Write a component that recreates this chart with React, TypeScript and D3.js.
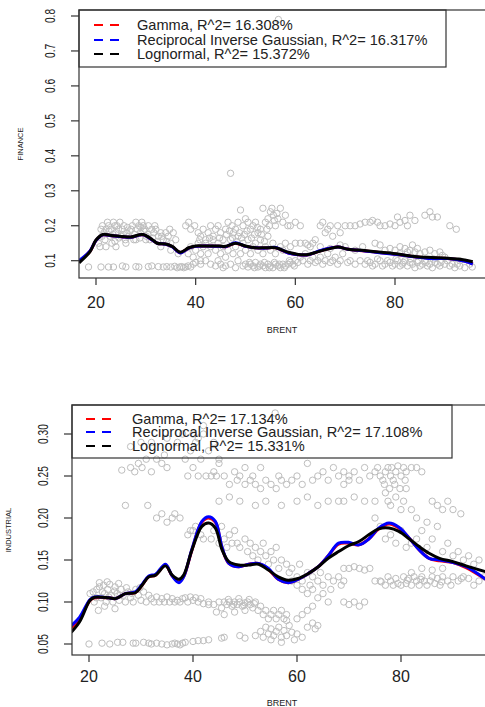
import * as d3 from "d3";

// fitted curves, sampled along BRENT
const financeX = [16.6, 18.8, 20, 21.4, 22.8, 25.4, 27, 29.4, 31.4, 32.3, 34, 35.3, 36.9, 38.6, 40, 42, 44.7, 46, 48, 50, 52, 54, 56, 58.6, 60.6, 62.6, 64.6, 67.3, 68.6, 70.6, 73.9, 77.3, 80.6, 83.9, 87.3, 90.6, 94, 95.6];
const financeGamma = [0.098, 0.127, 0.158, 0.174, 0.172, 0.168, 0.167, 0.174, 0.158, 0.15, 0.147, 0.14, 0.123, 0.136, 0.141, 0.142, 0.141, 0.14, 0.15, 0.141, 0.137, 0.136, 0.137, 0.122, 0.117, 0.117, 0.126, 0.137, 0.139, 0.133, 0.128, 0.123, 0.118, 0.111, 0.107, 0.106, 0.099, 0.091];
const financeRIG = [0.1, 0.128, 0.158, 0.174, 0.172, 0.168, 0.167, 0.174, 0.158, 0.15, 0.147, 0.14, 0.122, 0.136, 0.141, 0.142, 0.141, 0.14, 0.151, 0.141, 0.137, 0.136, 0.138, 0.122, 0.117, 0.117, 0.127, 0.137, 0.139, 0.133, 0.128, 0.122, 0.118, 0.111, 0.106, 0.106, 0.098, 0.09];
const financeLogn = [0.094, 0.126, 0.159, 0.175, 0.173, 0.169, 0.168, 0.175, 0.159, 0.15, 0.148, 0.141, 0.124, 0.137, 0.142, 0.142, 0.142, 0.141, 0.15, 0.142, 0.137, 0.137, 0.137, 0.124, 0.118, 0.118, 0.126, 0.136, 0.139, 0.133, 0.129, 0.124, 0.119, 0.112, 0.109, 0.107, 0.102, 0.097];

const industX = [16.6, 18.2, 20.2, 21.1, 23.8, 25.1, 27, 28.9, 30.2, 31.5, 32.8, 34.7, 36, 37.3, 38.2, 39.8, 41.7, 43, 44.3, 45.6, 46.9, 48.8, 50.7, 52.6, 54.5, 56.4, 58.3, 60.2, 62.2, 64.1, 66, 68, 69.9, 71.9, 73.8, 75.7, 77.7, 79.6, 81.6, 83.5, 85.4, 87.4, 90, 92.5, 96.3];
const industGamma = [0.069, 0.08, 0.102, 0.105, 0.105, 0.104, 0.11, 0.111, 0.12, 0.13, 0.132, 0.144, 0.131, 0.124, 0.13, 0.162, 0.195, 0.2, 0.195, 0.164, 0.146, 0.142, 0.145, 0.146, 0.139, 0.127, 0.123, 0.127, 0.134, 0.142, 0.155, 0.169, 0.17, 0.168, 0.175, 0.187, 0.193, 0.188, 0.176, 0.162, 0.152, 0.149, 0.147, 0.141, 0.127];
const industRIG = [0.072, 0.082, 0.103, 0.106, 0.105, 0.104, 0.11, 0.112, 0.121, 0.131, 0.133, 0.145, 0.131, 0.123, 0.13, 0.163, 0.196, 0.2015, 0.196, 0.165, 0.146, 0.142, 0.145, 0.146, 0.14, 0.127, 0.123, 0.127, 0.134, 0.142, 0.155, 0.17, 0.171, 0.168, 0.175, 0.188, 0.194, 0.189, 0.176, 0.162, 0.152, 0.15, 0.147, 0.142, 0.127];
const industLogn = [0.064, 0.0765, 0.102, 0.1056, 0.105, 0.104, 0.11, 0.111, 0.12, 0.13, 0.132, 0.143, 0.132, 0.127, 0.132, 0.162, 0.19, 0.194, 0.188, 0.162, 0.148, 0.144, 0.144, 0.145, 0.138, 0.13, 0.126, 0.128, 0.134, 0.142, 0.152, 0.16, 0.167, 0.172, 0.18, 0.187, 0.188, 0.184, 0.175, 0.166, 0.158, 0.152, 0.148, 0.143, 0.136];

// observations [BRENT, value]
const financePts: [number, number][] = [
  [20.5, 0.15], [21, 0.19], [21.3, 0.2], [21.6, 0.18], [21.8, 0.16], [22, 0.19], [22.3, 0.21], [22.5, 0.2], [22.8, 0.17], [23, 0.19], [23.2, 0.15], [23.5, 0.21], [23.8, 0.2], [24, 0.18], [24.2, 0.2], [24.5, 0.19], [24.8, 0.21], [25, 0.17], [25.3, 0.19], [25.6, 0.2], [25.9, 0.16], [26.2, 0.18], [26.5, 0.17], [27, 0.19], [27.3, 0.2], [27.6, 0.16], [28, 0.21], [28.3, 0.19], [28.6, 0.2], [28.9, 0.18], [29.2, 0.21], [29.5, 0.2], [29.8, 0.19], [30.1, 0.17], [30.5, 0.2], [30.8, 0.16], [31.2, 0.19], [31.6, 0.18], [32, 0.19], [32.5, 0.17], [33, 0.18], [33.5, 0.16], [34, 0.18], [34.5, 0.17], [35, 0.15], [35.5, 0.18], [36, 0.16],
  [22, 0.14], [24, 0.14], [26, 0.15], [28, 0.16], [30, 0.16], [33, 0.14], [35, 0.13], [36.5, 0.12],
  [21.2, 0.17], [22.6, 0.185], [23.4, 0.175], [24.6, 0.165], [25.5, 0.175], [26.8, 0.185], [27.8, 0.175], [28.8, 0.165], [29.6, 0.185], [30.4, 0.175], [31.4, 0.165], [32.3, 0.155], [33.2, 0.17], [34.2, 0.155], [20.8, 0.14], [23.8, 0.155], [26.3, 0.195], [29, 0.195], [31.8, 0.2], [34.8, 0.19],
  [18.5, 0.082], [21, 0.082], [22.5, 0.082], [23.5, 0.082], [25.3, 0.085], [26, 0.082], [28, 0.083], [28.6, 0.082], [30.5, 0.083], [31.2, 0.085], [32.5, 0.083], [33.5, 0.082], [34.2, 0.083], [35, 0.082], [35.8, 0.084], [36.3, 0.08], [36.8, 0.082], [37.2, 0.083], [37.6, 0.08], [38, 0.082], [38.5, 0.085], [39, 0.082], [39.5, 0.09], [40, 0.095], [41, 0.09],
  [38, 0.2], [38.6, 0.21], [39, 0.19], [39.8, 0.2], [40.5, 0.18], [41, 0.17], [41.5, 0.19], [42, 0.16], [42.5, 0.18], [43, 0.2], [43.5, 0.17], [44, 0.19], [44.5, 0.2], [45, 0.18], [45.5, 0.16], [46, 0.19], [46.5, 0.21], [47, 0.35], [47.3, 0.2], [47.6, 0.18], [48, 0.19], [48.5, 0.21], [49, 0.245], [49.5, 0.2], [50, 0.22], [50.5, 0.21], [51, 0.19], [51.5, 0.2], [52, 0.21], [52.5, 0.18], [53, 0.19], [53.5, 0.25], [54, 0.21], [54.5, 0.22], [55, 0.24], [55.3, 0.25], [55.6, 0.23], [56, 0.2], [56.5, 0.22], [57, 0.25], [57.5, 0.21], [58, 0.23], [58.5, 0.2], [59, 0.2],
  [38.5, 0.12], [39, 0.14], [40, 0.13], [40.5, 0.15], [41, 0.12], [41.5, 0.14], [42, 0.15], [42.5, 0.12], [43, 0.14], [43.5, 0.16], [44, 0.13], [44.5, 0.15], [45, 0.12], [45.5, 0.14], [46, 0.11], [46.5, 0.13], [47, 0.16], [47.5, 0.12], [48, 0.14], [48.5, 0.17], [49, 0.12], [49.5, 0.15], [50, 0.13], [50.5, 0.16], [51, 0.12], [51.5, 0.14], [52, 0.15], [52.5, 0.13], [53, 0.16], [53.5, 0.12], [54, 0.14], [54.5, 0.17], [55, 0.13], [55.5, 0.15], [56, 0.12], [57, 0.14], [57.5, 0.13], [58, 0.15], [59, 0.14], [60, 0.15],
  [46.2, 0.175], [46.8, 0.185], [47.4, 0.165], [48.2, 0.155], [48.8, 0.18], [49.2, 0.165], [49.8, 0.175], [50.3, 0.185], [51.2, 0.165], [51.8, 0.175], [52.4, 0.195], [53.2, 0.175], [53.8, 0.155], [54.3, 0.19], [54.8, 0.2], [55.8, 0.215], [56.3, 0.235], [44.8, 0.165], [42.8, 0.165], [40.8, 0.16],
  [39.5, 0.11], [41, 0.1], [42, 0.1], [43, 0.09], [44, 0.085], [44.5, 0.1], [45, 0.09], [45.5, 0.08], [46, 0.085], [47, 0.09], [48, 0.08], [48.5, 0.1], [49.5, 0.085], [50, 0.09], [50.5, 0.082], [51, 0.09], [51.5, 0.085], [52, 0.095], [52.5, 0.082], [53, 0.09], [53.5, 0.085], [54, 0.08], [54.5, 0.09], [55, 0.085], [55.5, 0.08], [56, 0.09], [56.5, 0.085], [57, 0.08], [57.5, 0.09], [58, 0.085], [58.5, 0.09], [59, 0.095], [59.5, 0.09], [60, 0.1], [60.5, 0.095],
  [50.8, 0.095], [51.8, 0.08], [52.8, 0.085], [53.8, 0.095], [54.8, 0.08], [55.8, 0.095], [56.8, 0.09], [57.8, 0.08], [58.8, 0.1], [59.8, 0.085],
  [56.6, 0.79],
  [60, 0.21], [61, 0.2], [62, 0.15], [63, 0.14], [63.5, 0.15], [64, 0.16], [65, 0.2], [65.5, 0.21], [66, 0.18], [66.5, 0.19], [67, 0.2], [67.5, 0.17], [68.5, 0.2], [69, 0.18], [70, 0.2],
  [61, 0.11], [61.5, 0.1], [62, 0.12], [62.5, 0.09], [63, 0.1], [63.5, 0.11], [64, 0.095], [64.5, 0.1], [65, 0.11], [65.5, 0.09], [66, 0.1], [66.5, 0.12], [67, 0.095], [67.5, 0.1], [68, 0.11], [68.5, 0.09], [69, 0.1], [69.5, 0.12], [61, 0.15], [62.5, 0.145], [65, 0.14], [67, 0.135], [69, 0.145],
  [71, 0.2], [72, 0.2], [73, 0.205], [74, 0.21], [75, 0.21], [75.5, 0.215], [76.5, 0.21], [77, 0.2], [78, 0.2], [79, 0.205], [80, 0.2], [80.5, 0.225], [81, 0.21], [82, 0.215], [82.5, 0.2], [83, 0.23], [84, 0.215], [86, 0.23], [87, 0.24], [87.5, 0.225], [88.5, 0.225], [91, 0.2], [92.3, 0.19],
  [70, 0.14], [72, 0.13], [73.5, 0.14], [76, 0.15], [77, 0.145], [78, 0.13], [79, 0.135], [80, 0.13], [81, 0.12], [82, 0.135], [82.5, 0.125], [83, 0.13], [84, 0.125], [84.5, 0.135], [85, 0.12], [86, 0.125], [87, 0.13], [88, 0.12], [89, 0.125], [89.5, 0.115], [81, 0.14], [83.5, 0.145],
  [70.5, 0.095], [71, 0.1], [72, 0.09], [73, 0.1], [74, 0.09], [75, 0.095], [75.5, 0.085], [76, 0.09], [77, 0.1], [77.5, 0.085], [78, 0.09], [79, 0.095], [79.5, 0.085], [80, 0.09], [80.5, 0.1], [81, 0.085], [81.5, 0.09], [82, 0.1], [82.5, 0.085], [83, 0.095], [83.5, 0.09], [84, 0.08], [84.5, 0.095], [85, 0.085], [85.5, 0.09], [86, 0.1], [86.5, 0.085], [87, 0.09], [87.5, 0.08], [88, 0.095], [88.5, 0.09], [89, 0.085], [90, 0.09], [90.5, 0.1], [91, 0.085], [91.5, 0.09], [92, 0.08], [92.5, 0.09], [93, 0.085], [94, 0.08], [95, 0.09], [95.5, 0.082], [93, 0.1], [90, 0.11],
  [78.5, 0.1], [80.2, 0.105], [81.7, 0.095], [83.2, 0.105], [84.7, 0.1], [86.2, 0.095], [87.7, 0.105], [89.2, 0.095], [76.5, 0.105], [74.5, 0.1],
];

const industPts: [number, number][] = [
  [20, 0.05], [22.5, 0.051], [24, 0.05], [25.5, 0.052], [26.5, 0.052], [28.5, 0.051], [29, 0.051], [30.5, 0.052], [31.5, 0.051], [32, 0.05], [33, 0.051], [34, 0.05], [35, 0.049], [36, 0.05], [36.5, 0.051], [37, 0.05], [37.5, 0.049], [38, 0.051], [38.5, 0.052], [40, 0.053], [41, 0.054], [42, 0.054], [43, 0.055], [45.5, 0.057], [46, 0.058], [49, 0.06], [50, 0.057],
  [20.2, 0.11], [20.8, 0.112], [21, 0.1], [21.5, 0.115], [22, 0.118], [22.3, 0.105], [22.8, 0.12], [23, 0.11], [23.3, 0.1], [23.6, 0.115], [24, 0.121], [24.3, 0.108], [24.6, 0.1], [25, 0.118], [25.4, 0.11], [25.8, 0.102], [26.2, 0.115], [26.6, 0.108], [27, 0.1], [27.5, 0.112], [28, 0.105], [28.5, 0.1], [29, 0.115], [29.5, 0.108], [30, 0.102], [30.5, 0.112], [31, 0.1], [31.5, 0.108], [32, 0.104], [32.5, 0.1], [33, 0.106], [33.5, 0.1], [34, 0.104], [34.5, 0.1], [35, 0.106], [35.5, 0.1], [36, 0.104], [36.5, 0.1], [37, 0.102], [37.5, 0.1], [38, 0.104], [38.5, 0.105], [39, 0.1], [39.5, 0.106], [40, 0.102], [40.5, 0.105], [41, 0.1], [41.5, 0.104], [42, 0.098], [43, 0.097], [21.8, 0.09], [23, 0.095], [25, 0.092],
  [21.4, 0.105], [22.6, 0.112], [23.8, 0.106], [24.9, 0.113], [26, 0.108], [27.2, 0.117], [28.3, 0.11], [29.8, 0.117], [22, 0.123], [23.5, 0.124], [25.7, 0.122],
  [26.3, 0.257], [27, 0.215], [28, 0.26], [28.8, 0.255], [29.5, 0.265], [30.2, 0.26], [31, 0.27], [31.3, 0.215], [32, 0.255], [33, 0.27], [34, 0.265], [34.5, 0.275], [35, 0.26], [33, 0.2], [34, 0.205], [35, 0.195], [36, 0.2], [36.5, 0.205], [37.5, 0.2], [38.5, 0.27], [39, 0.25], [39.5, 0.28], [40, 0.26], [40.5, 0.29], [41, 0.25], [41.5, 0.27], [42, 0.3], [42.5, 0.25], [43, 0.28], [43.5, 0.25], [44, 0.29], [44.5, 0.25], [45, 0.27], [39.5, 0.185], [40.5, 0.19], [41.5, 0.18], [42, 0.175], [39, 0.18], [40, 0.185],
  [28, 0.285], [30, 0.29], [32, 0.29], [35, 0.295], [37, 0.29], [38, 0.3], [40, 0.3], [41, 0.295], [42, 0.31],
  [44, 0.255], [45, 0.265], [46, 0.25], [47, 0.24], [48, 0.255], [48.5, 0.245], [49, 0.25], [50, 0.24], [51, 0.245], [51.5, 0.25], [52, 0.24], [53, 0.235], [54, 0.245], [55, 0.24], [56, 0.235], [56.5, 0.25], [57, 0.245], [58, 0.24], [59, 0.245], [60, 0.25], [61, 0.24], [63, 0.245], [64, 0.25], [65, 0.255], [66, 0.245], [67, 0.26], [68, 0.25], [69, 0.255], [70, 0.245], [45, 0.22], [47, 0.225], [49, 0.22], [52, 0.215], [54, 0.22], [57, 0.215], [60, 0.22], [62, 0.225], [64, 0.215], [66, 0.22], [68, 0.22], [58, 0.3], [55.8, 0.325], [50, 0.26], [53, 0.26], [62, 0.265],
  [43.5, 0.175], [44, 0.185], [45, 0.17], [45.5, 0.19], [46, 0.175], [46.5, 0.165], [47, 0.18], [47.5, 0.17], [48, 0.185], [48.5, 0.17], [49, 0.165], [50, 0.175], [50.5, 0.16], [51, 0.17], [51.5, 0.155], [52, 0.165], [52.5, 0.15], [53, 0.16], [53.5, 0.17], [54, 0.155], [54.5, 0.145], [55, 0.16], [55.5, 0.15], [56, 0.165], [56.5, 0.14], [57, 0.15], [58, 0.145], [58.5, 0.135], [59, 0.14], [60, 0.13], [60.5, 0.145], [61, 0.125], [62, 0.135], [62.5, 0.12], [63, 0.13], [64, 0.125], [64.5, 0.135], [65, 0.12], [66, 0.13], [66.5, 0.115], [67, 0.125], [68, 0.13], [68.5, 0.12], [69, 0.125], [63, 0.115], [64, 0.105], [65, 0.11], [66, 0.1], [62, 0.11], [61, 0.115], [60, 0.12], [59, 0.125],
  [43, 0.1], [44, 0.097], [45, 0.1], [45.5, 0.093], [46, 0.1], [46.5, 0.097], [47, 0.1], [47.5, 0.095], [48, 0.1], [48.5, 0.097], [49, 0.1], [49.5, 0.095], [50, 0.099], [50.5, 0.1], [51, 0.097], [51.5, 0.093], [52, 0.1], [52.5, 0.09], [53, 0.095], [53.5, 0.085], [54, 0.09], [54.5, 0.08], [55, 0.085], [55.5, 0.09], [56, 0.08], [56.5, 0.085], [57, 0.09], [57.5, 0.08], [58, 0.085], [46, 0.085], [48, 0.088], [50, 0.09], [44.5, 0.088],
  [46.8, 0.103], [47.8, 0.097], [48.8, 0.104], [49.8, 0.096], [50.8, 0.103], [51.8, 0.098],
  [52, 0.06], [53, 0.065], [53.5, 0.058], [54, 0.07], [54.5, 0.062], [55, 0.068], [55.5, 0.06], [56, 0.065], [56.5, 0.07], [57, 0.058], [57.5, 0.066], [58, 0.06], [58.5, 0.072], [59, 0.064], [59.5, 0.055], [60, 0.062], [61, 0.058], [62, 0.07], [63, 0.075], [63.5, 0.068], [64, 0.072], [55, 0.055], [57, 0.052], [58, 0.078], [60, 0.08], [61, 0.085], [62, 0.09], [63, 0.095],
  [69, 0.24], [70, 0.25], [71, 0.255], [72, 0.245], [73, 0.26], [74, 0.25], [75, 0.255], [75.5, 0.26], [76, 0.25], [76.5, 0.245], [77, 0.255], [77.5, 0.26], [78, 0.25], [78.5, 0.245], [79, 0.255], [80, 0.25], [80.5, 0.26], [81, 0.255], [82, 0.26], [83, 0.26], [84, 0.255],
  [76.8, 0.24], [77.8, 0.235], [78.8, 0.24], [79.8, 0.235], [80.8, 0.245], [78.2, 0.26], [79.4, 0.262],
  [69, 0.22], [71, 0.225], [73, 0.22], [75, 0.22], [77, 0.23], [77.5, 0.22], [78, 0.215], [79, 0.225], [80, 0.21], [80.5, 0.22], [81, 0.235], [82, 0.21], [86, 0.22], [87, 0.215], [88, 0.21], [89, 0.22], [90, 0.21], [91.5, 0.205],
  [75, 0.2], [76, 0.19], [77, 0.175], [78, 0.18], [79, 0.17], [80, 0.185], [81, 0.165], [82, 0.17], [83, 0.175], [84, 0.185], [85, 0.165], [86, 0.175], [87, 0.19], [88, 0.16], [89, 0.17], [90, 0.155], [91, 0.16], [92, 0.15], [93, 0.155], [94, 0.145], [95, 0.15], [83, 0.2], [85, 0.195],
  [69, 0.14], [70, 0.14], [71, 0.142], [72, 0.14], [73, 0.138], [74, 0.14], [75, 0.125], [76, 0.125], [77, 0.12], [77.5, 0.13], [78, 0.125], [78.5, 0.12], [79, 0.128], [80, 0.12], [80.5, 0.13], [81, 0.122], [81.5, 0.128], [82, 0.12], [82.5, 0.13], [83, 0.125], [83.5, 0.12], [84, 0.13], [84.5, 0.125], [85, 0.12], [86, 0.13], [86.5, 0.122], [87, 0.128], [87.5, 0.12], [88, 0.13], [89, 0.125], [90, 0.13], [91, 0.125], [92, 0.13], [93, 0.128], [94, 0.12], [95, 0.125], [96, 0.13], [82, 0.135], [84, 0.14], [86, 0.138], [88, 0.14],
  [76.2, 0.124], [79.4, 0.122], [81.2, 0.126], [83.8, 0.127], [85.6, 0.125], [87.8, 0.124], [89.6, 0.12], [91.6, 0.128],
  [69, 0.1], [70, 0.097], [71, 0.1], [72, 0.095], [73, 0.1],
];

const xTicks = [20, 40, 60, 80];
const financeTicks = [0.1, 0.2, 0.3, 0.4, 0.5, 0.6, 0.7, 0.8];
const industTicks = [0.05, 0.1, 0.15, 0.2, 0.25, 0.3];
const financeLegend = ["Gamma, R^2= 16.308%", "Reciprocal Inverse Gaussian, R^2= 16.317%", "Lognormal, R^2= 15.372%"];
const industLegend = ["Gamma, R^2= 17.134%", "Reciprocal Inverse Gaussian, R^2= 17.108%", "Lognormal, R^2= 15.331%"];
const colors = ["#ff0000", "#0000ff", "#000000"];

const FONT = "'Liberation Sans', Arial, sans-serif";

type PanelProps = {
  id: string;
  box: { left: number; top: number; bottom: number };
  x: d3.ScaleLinear<number, number>;
  y: d3.ScaleLinear<number, number>;
  yTicks: number[];
  yFmt: (v: number) => string;
  yLabelX: number;
  xLabelY: number;
  titleY: number;
  ylab: string;
  ylabX: number;
  points: [number, number][];
  curveX: number[];
  curves: number[][];
  legend: string[];
  legendBox: { right: number; bottom: number };
  legendRows: number[];
  legendSample: [number, number];
  legendTextX: number;
};

function Panel(p: PanelProps) {
  const { box, x, y } = p;
  const right = 490;
  const line = d3
    .line<number>()
    .x((_, i) => x(p.curveX[i]))
    .y((v) => y(v))
    .curve(d3.curveCatmullRom);
  const midY = (box.top + box.bottom) / 2;
  return (
    <g fontFamily={FONT}>
      <defs>
        <clipPath id={p.id}>
          <rect x={box.left} y={box.top} width={right - box.left} height={box.bottom - box.top} />
        </clipPath>
      </defs>
      <g clipPath={`url(#${p.id})`}>
        {p.points.map(([bx, v], i) => (
          <circle key={i} cx={x(bx)} cy={y(v)} r={3.2} fill="none" stroke="#bebebe" strokeWidth={1} />
        ))}
        {p.curves.map((c, i) => (
          <path key={i} d={line(c) ?? ""} fill="none" stroke={colors[i]} strokeWidth={3} />
        ))}
      </g>
      <rect x={box.left} y={box.top} width={right - box.left} height={box.bottom - box.top} fill="none" stroke="#333" strokeWidth={1.2} />
      {/* y axis */}
      {p.yTicks.map((t) => (
        <g key={t}>
          <line x1={box.left - 8} x2={box.left} y1={y(t)} y2={y(t)} stroke="#333" strokeWidth={1.2} />
          <text
            transform={`translate(${p.yLabelX},${y(t)}) rotate(-90) scale(0.68,1)`}
            textAnchor="middle"
            dy="0.35em"
            fontSize={15}
            fill="#222"
          >
            {p.yFmt(t)}
          </text>
        </g>
      ))}
      {/* x axis */}
      {xTicks.map((t) => (
        <g key={t}>
          <line x1={x(t)} x2={x(t)} y1={box.bottom} y2={box.bottom + 7} stroke="#333" strokeWidth={1.2} />
          <text x={x(t)} y={p.xLabelY} dy="0.35em" textAnchor="middle" fontSize={16} fill="#222">
            {t}
          </text>
        </g>
      ))}
      <text x={282} y={p.titleY} dy="0.35em" textAnchor="middle" fontSize={9} fill="#222">
        BRENT
      </text>
      <text transform={`translate(${p.ylabX},${midY}) rotate(-90)`} dy="0.35em" textAnchor="middle" fontSize={7.5} fill="#222">
        {p.ylab}
      </text>
      {/* legend */}
      <rect x={box.left} y={box.top} width={p.legendBox.right - box.left} height={p.legendBox.bottom - box.top} fill="none" stroke="#333" strokeWidth={1.2} />
      {p.legend.map((lab, i) => (
        <g key={lab}>
          <line
            x1={p.legendSample[0]}
            x2={p.legendSample[1]}
            y1={p.legendRows[i]}
            y2={p.legendRows[i]}
            stroke={colors[i]}
            strokeWidth={2}
            strokeDasharray="9,7"
          />
          <text x={p.legendTextX} y={p.legendRows[i]} dy="0.34em" fontSize={14.6} fill="#222">
            {lab}
          </text>
        </g>
      ))}
    </g>
  );
}

export default function App() {
  const fx = d3.scaleLinear().domain([20, 80]).range([96, 395]);
  const fy = d3.scaleLinear().domain([0.1, 0.8]).range([260.7, 16]);
  const ix = d3.scaleLinear().domain([20, 80]).range([89, 401]);
  const iy = d3.scaleLinear().domain([0.05, 0.3]).range([644, 434]);
  return (
    <svg width={485} height={707} style={{ position: "absolute", left: 0, top: 0, background: "#fff" }}>
      <Panel
        id="clipFin"
        box={{ left: 79, top: 10, bottom: 278 }}
        x={fx}
        y={fy}
        yTicks={financeTicks}
        yFmt={d3.format(".1f")}
        yLabelX={50}
        xLabelY={302}
        titleY={330}
        ylab="FINANCE"
        ylabX={20}
        points={financePts}
        curveX={financeX}
        curves={[financeGamma, financeRIG, financeLogn]}
        legend={financeLegend}
        legendBox={{ right: 446, bottom: 67 }}
        legendRows={[25, 40, 54]}
        legendSample={[94, 119]}
        legendTextX={137}
      />
      <Panel
        id="clipInd"
        box={{ left: 72, top: 405, bottom: 655 }}
        x={ix}
        y={iy}
        yTicks={industTicks}
        yFmt={d3.format(".2f")}
        yLabelX={43}
        xLabelY={676}
        titleY={703}
        ylab="INDUSTRIAL"
        ylabX={8}
        points={industPts}
        curveX={industX}
        curves={[industGamma, industRIG, industLogn]}
        legend={industLegend}
        legendBox={{ right: 452, bottom: 458 }}
        legendRows={[419, 432, 446]}
        legendSample={[86, 115]}
        legendTextX={132}
      />
    </svg>
  );
}
